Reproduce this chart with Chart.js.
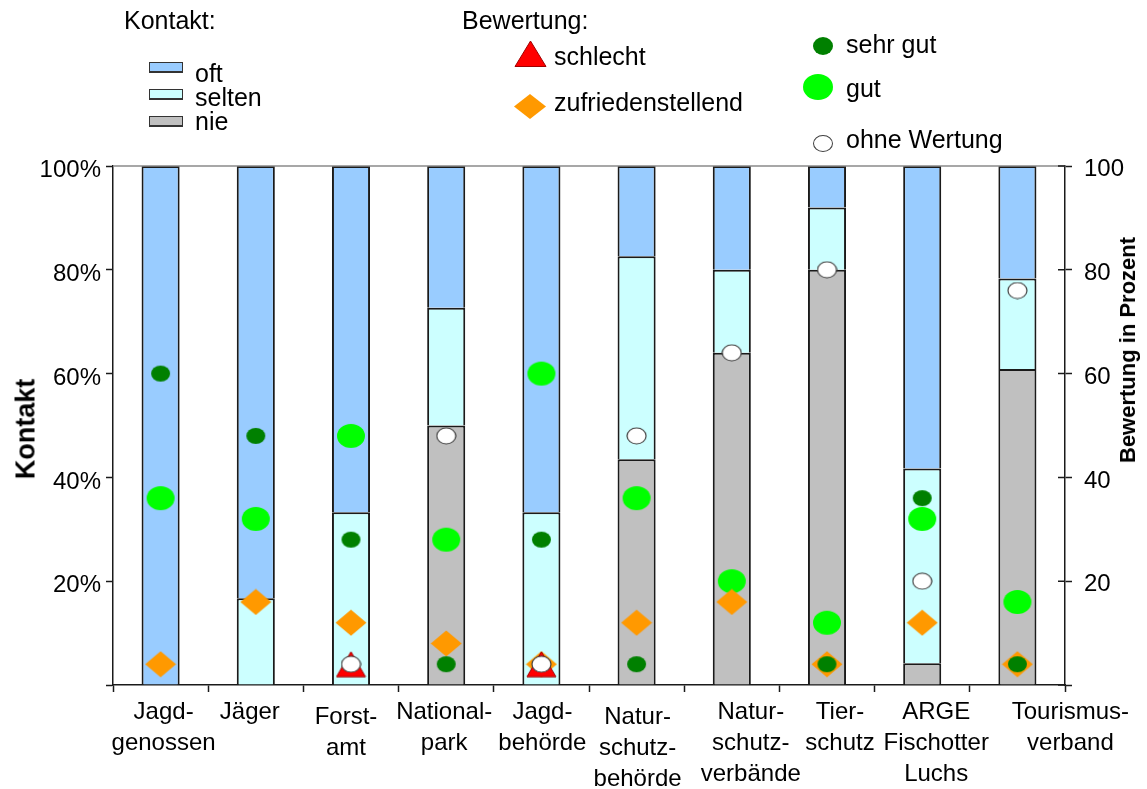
<!DOCTYPE html>
<html>
<head>
<meta charset="utf-8">
<script src="https://cdn.jsdelivr.net/npm/chart.js@4.4.1/dist/chart.umd.min.js"></script>
<style>
    body { margin: 0; background: #fff; }
    #wrap { position: relative; width: 1147px; height: 789px; font-family: "Liberation Sans", Arial, sans-serif; }
    #chart { position: absolute; left: 0; top: 0; }
    .lg { position: absolute; font-size: 25px; line-height: 25px; color: #000; white-space: nowrap; }
    .sw { position: absolute; width: 32px; height: 8px; border: 1px solid #333; border-bottom-width: 2px; }
    .el { position: absolute; border-radius: 50%; box-sizing: border-box; }
    .vt { position: absolute; font-weight: bold; white-space: nowrap; transform: translate(-50%, -50%) rotate(-90deg); }
</style>
</head>
<body>
<div id="wrap">
    <canvas id="chart" width="1147" height="789"></canvas>

    <div class="lg" style="left:124px; top:8px;">Kontakt:</div>
    <div class="sw" style="left:149px; top:62px; background:#99CCFF;"></div>
    <div class="lg" style="left:195px; top:61px;">oft</div>
    <div class="sw" style="left:149px; top:89px; background:#CCFFFF;"></div>
    <div class="lg" style="left:195px; top:85px;">selten</div>
    <div class="sw" style="left:149px; top:116px; background:#C0C0C0;"></div>
    <div class="lg" style="left:195px; top:109px;">nie</div>

    <div class="lg" style="left:462px; top:8px;">Bewertung:</div>
    <svg style="position:absolute; left:514px; top:40px;" width="33" height="28">
        <polygon points="16.5,1 32,26.5 1,26.5" fill="#FF0000" stroke="#A00000" stroke-width="1"/>
    </svg>
    <div class="lg" style="left:554px; top:44px;">schlecht</div>
    <svg style="position:absolute; left:514px; top:93px;" width="33" height="27">
        <polygon points="16,1 32,13.5 16,26 0,13.5" fill="#FF9900"/>
    </svg>
    <div class="lg" style="left:554px; top:90px;">zufriedenstellend</div>

    <div class="el" style="left:813px; top:37px; width:20px; height:18px; background:#008000;"></div>
    <div class="lg" style="left:846px; top:32px;">sehr gut</div>
    <div class="el" style="left:803px; top:74px; width:30px; height:26px; background:#00FF00;"></div>
    <div class="lg" style="left:846px; top:76px;">gut</div>
    <div class="el" style="left:813px; top:135px; width:20px; height:17px; background:#fff; border:1px solid #404040;"></div>
    <div class="lg" style="left:846px; top:127px;">ohne Wertung</div>

    <div class="vt" style="left:26px; top:429px; font-size:27px;">Kontakt</div>
    <div class="vt" style="left:1128px; top:350px; font-size:22px;">Bewertung in Prozent</div>
</div>

<script>
// Kategorien (Kontaktpartner)
var categories = [
    ['Jagd-', 'genossen'], ['Jäger'], ['Forst-', 'amt'], ['National-', 'park'], ['Jagd-', 'behörde'],
    ['Natur-', 'schutz-', 'behörde'], ['Natur-', 'schutz-', 'verbände'], ['Tier-', 'schutz'],
    ['ARGE', 'Fischotter', 'Luchs'], ['Tourismus-', 'verband']
];

// Kontakt in % (gestapelt)
var nie    = [0, 0, 0, 50, 0, 43.5, 64, 80, 4.2, 60.9];
var selten = [0, 16.7, 33.3, 22.7, 33.3, 39.1, 16, 12, 37.5, 17.4];
var oft    = [100, 83.3, 66.7, 27.3, 66.7, 17.4, 20, 8, 58.3, 21.7];

// Bewertung in Prozent (rechte Achse)
var sehrGut      = [60, 48, 28, 4, 28, 4, null, 4, 36, 4];
var gut          = [36, 32, 48, 28, 60, 36, 20, 12, 32, 16];
var zufrieden    = [4, 16, 12, 8, 4, 12, 16, 4, 12, 4];
var schlecht     = [null, null, 4, null, 4, null, null, null, null, null];
var ohneWertung  = [null, null, 4, 48, 4, 48, 64, 80, 20, 76];

var axisTicks = [0, 20, 40, 60, 80, 100];

// Beschriftung der Kategorien ist im Original etwas versetzt
var labelShift = [3, -6, -5, -2, 1, 1, 19, 13, 14, 53];
var labelDrop  = [0, 0, 5, 0, 0, 5, 0, 0, 0, 0];

function marker(w, h, draw) {
    var c = document.createElement('canvas');
    c.width = w;
    c.height = h;
    draw(c.getContext('2d'), w, h);
    return c;
}

function ellipse(w, h, fill, stroke) {
    return marker(w, h, function (g) {
        g.beginPath();
        g.ellipse(w / 2, h / 2, w / 2 - 1, h / 2 - 1, 0, 0, Math.PI * 2);
        g.fillStyle = fill;
        g.fill();
        if (stroke) {
            g.strokeStyle = stroke;
            g.lineWidth = 1.2;
            g.stroke();
        }
    });
}

var dotSehrGut = ellipse(21, 18, '#008000');
var dotGut = ellipse(30, 26, '#00FF00');
var dotOhne = ellipse(21, 18, '#ffffff', '#404040');
var diamond = marker(32, 27, function (g, w, h) {
    g.beginPath();
    g.moveTo(w / 2, 0.5); g.lineTo(w - 0.5, h / 2); g.lineTo(w / 2, h - 0.5); g.lineTo(0.5, h / 2);
    g.closePath();
    g.fillStyle = '#FF9900';
    g.fill();
});
var triangle = marker(31, 27, function (g, w, h) {
    g.beginPath();
    g.moveTo(w / 2, 1); g.lineTo(w - 1, h - 1); g.lineTo(1, h - 1);
    g.closePath();
    g.fillStyle = '#FF0000';
    g.fill();
    g.strokeStyle = '#A00000';
    g.lineWidth = 1;
    g.stroke();
});

function barSet(label, data, color) {
    return {
        type: 'bar', label: label, data: data, backgroundColor: color,
        borderColor: '#1a1a1a', borderWidth: 2, borderSkipped: 'start',
        barPercentage: 0.4, categoryPercentage: 1, yAxisID: 'y', stack: 'kontakt', order: 10
    };
}

function pointSet(label, data, style, order) {
    return {
        type: 'line', label: label, data: data, showLine: false, pointStyle: style,
        pointRadius: 12, pointHoverRadius: 12, yAxisID: 'y2', order: order
    };
}

var framePlugin = {
    id: 'frame',
    afterDraw: function (chart) {
        var ctx = chart.ctx, a = chart.chartArea, y2 = chart.scales.y2, x = chart.scales.x;
        ctx.save();
        ctx.strokeStyle = '#8a8a8a';
        ctx.lineWidth = 1.5;
        ctx.beginPath();
        ctx.moveTo(a.left, a.top);
        ctx.lineTo(a.right, a.top);
        ctx.stroke();
        // Teilstriche der rechten Achse auch nach innen
        ctx.strokeStyle = '#1a1a1a';
        ctx.beginPath();
        y2.ticks.forEach(function (t) {
            var y = y2.getPixelForValue(t.value);
            ctx.moveTo(a.right - 7, y);
            ctx.lineTo(a.right, y);
        });
        ctx.stroke();
        // Kategorienbeschriftung
        ctx.fillStyle = '#000';
        ctx.font = '24px "Liberation Sans", Arial, sans-serif';
        ctx.textAlign = 'center';
        ctx.textBaseline = 'middle';
        categories.forEach(function (lines, i) {
            var cx = x.getPixelForValue(i) + labelShift[i];
            lines.forEach(function (line, j) {
                ctx.fillText(line, cx, x.top + 27 + labelDrop[i] + j * 31);
            });
        });
        ctx.restore();
    }
};

Chart.defaults.font.family = '"Liberation Sans", Arial, sans-serif';
Chart.defaults.color = '#000';

var ctx = document.getElementById('chart').getContext('2d');
var chart = new Chart(ctx, {
    type: 'bar',
    data: {
        labels: categories,
        datasets: [
            pointSet('ohne Wertung', ohneWertung, dotOhne, 0),
            pointSet('schlecht', schlecht, triangle, 1),
            pointSet('sehr gut', sehrGut, dotSehrGut, 2),
            pointSet('zufriedenstellend', zufrieden, diamond, 3),
            pointSet('gut', gut, dotGut, 4),
            barSet('nie', nie, '#C0C0C0'),
            barSet('selten', selten, '#CCFFFF'),
            barSet('oft', oft, '#99CCFF')
        ]
    },
    options: {
        responsive: false,
        animation: false,
        layout: { padding: { top: 166, left: 0, right: 0, bottom: 0 } },
        plugins: {
            legend: { display: false },
            tooltip: { enabled: false }
        },
        scales: {
            x: {
                stacked: true,
                offset: true,
                grid: { offset: true, drawOnChartArea: false, tickLength: 7, color: '#1a1a1a', tickWidth: 1.5 },
                border: { color: '#1a1a1a', width: 1.5 },
                ticks: { display: false },
                afterFit: function (s) { s.height = 104; }
            },
            y: {
                position: 'left',
                stacked: true,
                min: 0,
                max: 100,
                afterBuildTicks: function (s) { s.ticks = axisTicks.map(function (v) { return { value: v }; }); },
                grid: { drawOnChartArea: false, tickLength: 7, color: '#1a1a1a', tickWidth: 1.5 },
                border: { color: '#1a1a1a', width: 1.5 },
                ticks: {
                    font: { size: 24, lineHeight: 0.38 }, padding: 5,
                    callback: function (v) { return v === 0 ? '' : ['', v + '%']; }
                },
                afterFit: function (s) { s.width = 113; }
            },
            y2: {
                position: 'right',
                min: 0,
                max: 100,
                afterBuildTicks: function (s) { s.ticks = axisTicks.map(function (v) { return { value: v }; }); },
                grid: { drawOnChartArea: false, tickLength: 7, color: '#1a1a1a', tickWidth: 1.5 },
                border: { color: '#1a1a1a', width: 1.5 },
                ticks: {
                    font: { size: 24, lineHeight: 0.3 }, padding: 12,
                    callback: function (v) { return v === 0 ? '' : ['', String(v)]; }
                },
                afterFit: function (s) { s.width = 82; }
            }
        }
    },
    plugins: [framePlugin]
});
</script>
</body>
</html>
